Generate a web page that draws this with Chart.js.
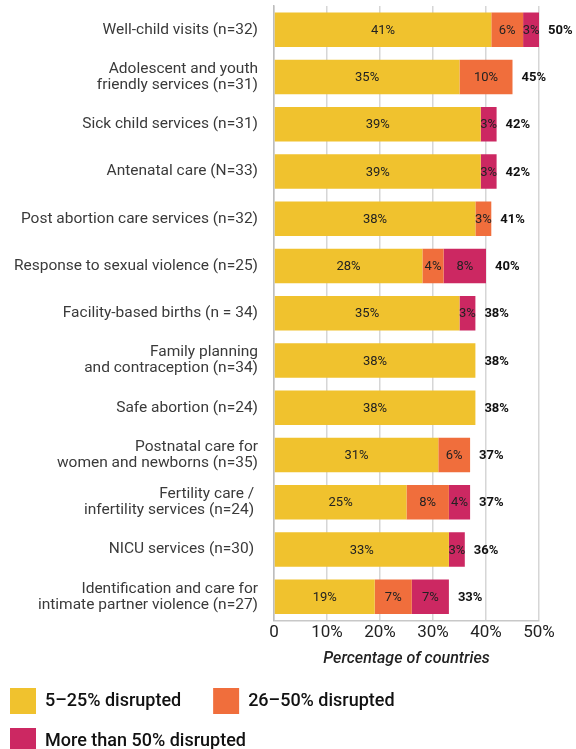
<html lang="en">
<head>
  <meta charset="UTF-8">
  <title>Service disruption chart</title>
  <script src="https://cdn.jsdelivr.net/npm/chart.js"></script>
  <style>
    body, html {
      margin: 0;
      padding: 0;
      background: #fff;
      overflow: hidden;
      font-family: Roboto, sans-serif;
    }
    .chart-container {
      position: relative;
      width: 576px;
      height: 764px;
    }
  </style>
</head>
<body>
  <div class="chart-container"><canvas id="myChart"></canvas></div>

  <script>
    const services = [
      'Well-child visits (n=32)',
      ['Adolescent and youth', 'friendly services (n=31)'],
      'Sick child services (n=31)',
      'Antenatal care (N=33)',
      'Post abortion care services (n=32)',
      'Response to sexual violence (n=25)',
      'Facility-based births (n = 34)',
      ['Family planning', 'and contraception (n=34)'],
      'Safe abortion (n=24)',
      ['Postnatal care for', 'women and newborns (n=35)'],
      ['Fertility care / ', 'infertility services (n=24) '],
      'NICU services (n=30) ',
      ['Identification and care for', 'intimate partner violence (n=27)']
    ];
    const lowDisrupted  = [41, 35, 39, 39, 38, 28, 35, 38, 38, 31, 25, 33, 19];
    const midDisrupted  = [6, 10, 0, 0, 3, 4, 0, 0, 0, 6, 8, 0, 7];
    const highDisrupted = [3, 0, 3, 3, 0, 8, 3, 0, 0, 0, 4, 3, 7];
    const totals        = [50, 45, 42, 42, 41, 40, 38, 38, 38, 37, 37, 36, 33];
    const xTicks = [0, 10, 20, 30, 40, 50];

    const ctx = document.getElementById('myChart').getContext('2d');

    // segment values inside bars + bold totals after the bar end
    const barLabels = {
      id: 'barLabels',
      afterDatasetsDraw(chart) {
        const c = chart.ctx;
        c.save();
        c.textBaseline = 'middle';
        const ends = [];
        chart.data.datasets.forEach((ds, i) => {
          const meta = chart.getDatasetMeta(i);
          meta.data.forEach((bar, j) => {
            ends[j] = Math.max(ends[j] || 0, bar.x);
            const v = ds.data[j];
            if (!v) return;
            c.font = '400 13px Roboto';
            c.fillStyle = '#222';
            c.textAlign = 'center';
            c.fillText(v + '%', (bar.x + bar.base) / 2, bar.y + 1);
          });
        });
        const meta0 = chart.getDatasetMeta(0);
        totals.forEach((t, j) => {
          c.font = 'bold 13px Roboto';
          c.fillStyle = '#111';
          c.textAlign = 'left';
          c.fillText(t + '%', ends[j] + 9, meta0.data[j].y + 1);
        });
        c.restore();
      }
    };

    const myChart = new Chart(ctx, {
      type: 'bar',
      data: {
        labels: services,
        datasets: [
          {
            label: '5\u201325% disrupted',
            data: lowDisrupted,
            backgroundColor: '#F0C22E',
            borderWidth: 0
          },
          {
            label: '26\u201350% disrupted',
            data: midDisrupted,
            backgroundColor: '#F06E3C',
            borderWidth: 0
          },
          {
            label: 'More than 50% disrupted',
            data: highDisrupted,
            backgroundColor: '#CC2862',
            borderWidth: 0
          }
        ]
      },
      options: {
        indexAxis: 'y',
        responsive: true,
        maintainAspectRatio: false,
        animation: false,
        layout: {
          padding: { top: 6, right: 37, left: -4, bottom: 0 }
        },
        datasets: {
          bar: { barPercentage: 0.73, categoryPercentage: 1 }
        },
        scales: {
          x: {
            stacked: true,
            min: 0,
            max: 50,
            afterBuildTicks(scale) {
              scale.ticks = xTicks.map(v => ({ value: v }));
            },
            ticks: {
              color: '#222',
              font: { family: 'Roboto', size: 17 },
              padding: 2,
              callback: v => v === 0 ? '0' : v + '%'
            },
            grid: {
              color: '#d6d6d6',
              lineWidth: 1.5,
              drawTicks: false
            },
            border: { color: '#c8c8c8', width: 1.5 },
            title: {
              display: true,
              text: 'Percentage of countries',
              color: '#222',
              font: { family: 'Roboto', size: 16, style: 'italic', weight: '500' },
              padding: { top: 5, bottom: 5 }
            }
          },
          y: {
            stacked: true,
            afterFit(scale) {
              scale.width = 278;
              scale.paddingTop = 0;
              scale.paddingBottom = 0;
            },
            ticks: {
              color: '#3a3a3a',
              font: { family: 'Roboto', size: 15.5, lineHeight: 1.03 },
              padding: 8
            },
            grid: { display: false },
            border: { color: '#bdbdbd', width: 1.5 }
          }
        },
        plugins: {
          legend: {
            position: 'bottom',
            align: 'start',
            labels: {
              boxWidth: 26,
              boxHeight: 26,
              padding: 14,
              color: '#111',
              font: { family: 'Roboto', size: 18, weight: '500' },
              generateLabels(chart) {
                const items = Chart.defaults.plugins.legend.labels.generateLabels(chart);
                items[0].text += '\u00a0\u00a0\u00a0\u00a0';
                return items;
              }
            }
          },
          tooltip: { enabled: false }
        }
      },
      plugins: [barLabels]
    });
  </script>
</body>
</html>
